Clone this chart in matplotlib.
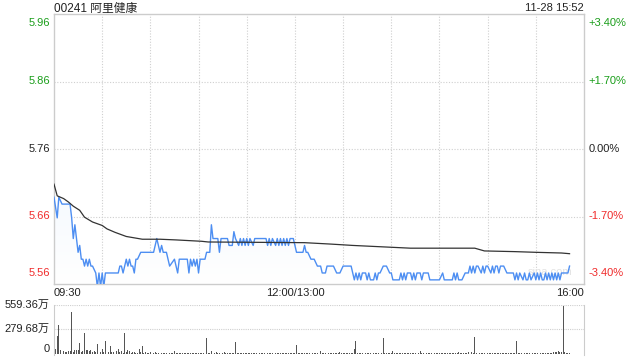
import numpy as np
import matplotlib.pyplot as plt
import matplotlib.transforms as mtransforms

plt.rcParams['font.family'] = ['Liberation Sans', 'Noto Sans CJK SC']

# 标题与时间
TITLE = "00241 阿里健康"
STAMP = "11-28 15:52"
PREV_CLOSE = 5.76
SPAN = 0.196

price_labels = ["5.96", "5.86", "5.76", "5.66", "5.56"]
pct_labels = ["+3.40%", "+1.70%", "0.00%", "-1.70%", "-3.40%"]
label_colors = ["#1a9e1a", "#1a9e1a", "#222222", "#f02b2b", "#f02b2b"]
time_labels = ["09:30", "12:00/13:00", "16:00"]
vol_labels = ["559.36万", "279.68万", "0"]
VOL_MAX = 559.36

# 分时价格 (分钟, 价格)
price_min = [0, 2, 3, 5, 10, 11, 12, 13, 14, 15, 16, 17, 18, 19, 20, 21, 22, 23, 24, 26,
             27, 28, 29, 30, 31, 32, 34, 39, 40, 41, 42, 43, 44, 45, 46, 47, 48, 49, 50, 51,
             52, 54, 62, 64, 66, 67, 68, 70, 71, 72, 75, 77, 78, 83, 84, 85, 86, 87, 88, 89,
             90, 91, 94, 95, 97, 98, 99, 102, 103, 104, 108, 109, 111, 112, 113, 115, 116, 117, 118, 119,
             120, 121, 122, 124, 125, 132, 133, 134, 135, 136, 138, 139, 140, 141, 142, 143, 144, 145, 146, 147,
             149, 150, 151, 155, 156, 157, 158, 160, 162, 164, 166, 167, 169, 170, 174, 176, 178, 180, 185, 187,
             188, 189, 190, 191, 192, 194, 195, 196, 197, 199, 200, 201, 202, 203, 205, 207, 209, 210, 211, 215,
             216, 217, 218, 219, 220, 222, 223, 224, 225, 226, 228, 229, 230, 231, 233, 234, 240, 242, 243, 248,
             249, 250, 251, 252, 254, 256, 258, 259, 260, 261, 262, 263, 264, 266, 267, 268, 269, 270, 272, 273,
             274, 275, 276, 277, 278, 280, 282, 286, 287, 288, 289, 290, 292, 293, 294, 295, 296, 297, 299, 300,
             301, 302, 303, 304, 305, 306, 307, 308, 309, 310, 311, 312, 313, 314, 315, 316, 318, 319, 320, 321]
price = [5.69, 5.66, 5.69, 5.68, 5.68, 5.66, 5.63, 5.65, 5.63, 5.61, 5.62, 5.60, 5.60, 5.59, 5.60, 5.59, 5.60, 5.59, 5.59, 5.58,
         5.56, 5.58, 5.56, 5.58, 5.56, 5.58, 5.58, 5.58, 5.58, 5.59, 5.59, 5.58, 5.59, 5.60, 5.59, 5.60, 5.59, 5.59, 5.58, 5.60,
         5.60, 5.61, 5.61, 5.63, 5.61, 5.62, 5.61, 5.61, 5.60, 5.59, 5.60, 5.58, 5.60, 5.60, 5.58, 5.60, 5.59, 5.60, 5.59, 5.60,
         5.58, 5.60, 5.60, 5.61, 5.61, 5.65, 5.63, 5.63, 5.61, 5.63, 5.63, 5.62, 5.62, 5.64, 5.63, 5.62, 5.63, 5.62, 5.63, 5.62,
         5.63, 5.62, 5.63, 5.62, 5.63, 5.63, 5.62, 5.63, 5.62, 5.63, 5.62, 5.63, 5.62, 5.63, 5.62, 5.63, 5.62, 5.63, 5.62, 5.63,
         5.63, 5.62, 5.61, 5.61, 5.62, 5.61, 5.61, 5.60, 5.60, 5.59, 5.59, 5.58, 5.58, 5.59, 5.59, 5.58, 5.58, 5.59, 5.59, 5.57,
         5.58, 5.57, 5.58, 5.57, 5.58, 5.58, 5.57, 5.58, 5.57, 5.57, 5.58, 5.57, 5.58, 5.58, 5.59, 5.59, 5.58, 5.58, 5.57, 5.57,
         5.58, 5.57, 5.58, 5.57, 5.58, 5.58, 5.57, 5.58, 5.57, 5.58, 5.58, 5.57, 5.58, 5.58, 5.58, 5.57, 5.57, 5.58, 5.57, 5.57,
         5.58, 5.57, 5.58, 5.57, 5.57, 5.58, 5.58, 5.59, 5.58, 5.59, 5.58, 5.59, 5.59, 5.58, 5.59, 5.58, 5.59, 5.59, 5.58, 5.59,
         5.58, 5.59, 5.59, 5.58, 5.59, 5.59, 5.58, 5.58, 5.57, 5.58, 5.57, 5.58, 5.57, 5.58, 5.57, 5.57, 5.58, 5.57, 5.58, 5.57,
         5.58, 5.57, 5.58, 5.57, 5.57, 5.58, 5.57, 5.58, 5.57, 5.58, 5.57, 5.58, 5.57, 5.58, 5.57, 5.58, 5.58, 5.58, 5.58, 5.59]

# 均价线
avg_min = [0, 2, 6, 9, 12, 16, 19, 24, 30, 33, 38, 45, 55, 66, 76, 92, 96, 156, 164, 172,
           186, 204, 222, 262, 268, 287, 300, 316, 321]
avg_price = [5.709, 5.692, 5.688, 5.683, 5.677, 5.671, 5.661, 5.654, 5.649, 5.644, 5.639, 5.633, 5.629, 5.629, 5.628,
             5.626, 5.625, 5.624, 5.623, 5.622, 5.620, 5.618, 5.616, 5.616, 5.612, 5.611, 5.610, 5.609, 5.608]

# 每分钟成交量 (万)
volume = [291, 60, 206, 329, 40, 99, 30, 20, 25, 30, 35, 475, 20, 40, 45, 40, 122, 25, 30, 233,
          45, 40, 35, 45, 20, 30, 15, 107, 25, 20, 50, 20, 145, 30, 25, 90, 15, 25, 12, 30,
          60, 15, 30, 10, 241, 20, 40, 30, 12, 15, 20, 10, 8, 60, 15, 91, 10, 15, 8, 12,
          20, 8, 10, 20, 10, 6, 15, 8, 10, 5, 12, 6, 8, 10, 5, 30, 8, 6, 10, 5,
          8, 6, 12, 5, 8, 4, 10, 6, 5, 8, 4, 6, 10, 5, 8, 176, 10, 6, 30, 183,
          8, 25, 6, 10, 40, 8, 20, 5, 6, 8, 4, 6, 8, 130, 10, 6, 5, 8, 4, 6,
          10, 5, 6, 4, 8, 5, 6, 15, 4, 6, 5, 8, 4, 6, 5, 4, 6, 8, 5, 4,
          6, 5, 4, 8, 5, 6, 4, 5, 10, 6, 5, 99, 8, 5, 6, 4, 5, 8, 4, 6,
          5, 4, 6, 5, 8, 79, 30, 6, 5, 4, 8, 5, 6, 10, 4, 5, 6, 8, 20, 5,
          6, 4, 5, 8, 6, 5, 10, 60, 145, 6, 5, 4, 8, 5, 6, 4, 5, 8, 6, 5,
          4, 6, 5, 8, 10, 183, 6, 5, 8, 4, 6, 30, 5, 8, 6, 4, 5, 10, 6, 5,
          4, 6, 8, 5, 6, 4, 8, 10, 30, 6, 5, 4, 8, 6, 5, 10, 6, 4, 5, 8,
          6, 5, 4, 8, 6, 10, 5, 6, 4, 8, 5, 6, 15, 4, 8, 6, 10, 5, 20, 272,
          15, 8, 194, 10, 20, 6, 5, 8, 4, 6, 5, 8, 6, 4, 12, 5, 6, 8, 4, 6,
          5, 8, 6, 10, 5, 6, 4, 8, 145, 6, 5, 10, 4, 6, 8, 5, 6, 4, 8, 10,
          6, 8, 5, 10, 6, 8, 12, 10, 6, 8, 12, 20, 15, 25, 30, 20, 25, 551, 25, 10, 8, 6]

BORDER = "#cccccc"
GRID = "#cfcfcf"

fig = plt.figure(figsize=(6.4, 3.6), dpi=100)
ax = fig.add_axes([54/640, 1 - 284/360, 530/640, 270/360])
axv = fig.add_axes([54/640, 1 - 355/360, 530/640, 50/360])

lo, hi = PREV_CLOSE - SPAN, PREV_CLOSE + SPAN

# 价格面板
ax.set_xlim(0, 330)
ax.set_ylim(lo, hi)
for x in range(30, 330, 30):
    ax.axvline(x, color=GRID, lw=0.8, ls=(0, (1, 1.5)), zorder=0)
levels = [hi, PREV_CLOSE + SPAN / 2, PREV_CLOSE, PREV_CLOSE - SPAN / 2, lo]
for y in levels[1:4]:
    ax.axhline(y, color=GRID, lw=0.8, ls=(0, (1, 1.5)), zorder=0)

# 渐变填充
grad = np.linspace(0, 1, 256).reshape(-1, 1)
img = ax.imshow(grad, extent=[0, 330, lo, hi], origin='lower', aspect='auto',
                cmap=plt.matplotlib.colors.LinearSegmentedColormap.from_list(
                    'g', ['#ffffff', '#e3eefc']), zorder=1)
poly_x = [price_min[0]] + price_min + [price_min[-1]]
poly_y = [lo] + price + [lo]
clip = plt.Polygon(np.column_stack([poly_x, poly_y]), closed=True, transform=ax.transData,
                   facecolor='none', edgecolor='none')
ax.add_patch(clip)
img.set_clip_path(clip)

ax.plot(price_min, price, color='#4d8ef2', lw=1.0, zorder=3)
ax.plot(avg_min, avg_price, color='#333333', lw=0.9, zorder=3)

ax.set_xticks([])
ax.set_yticks([])
for s in ax.spines.values():
    s.set_color(BORDER)
    s.set_linewidth(1)

tl = mtransforms.blended_transform_factory(ax.transAxes, ax.transData)
vas = ['top', 'center', 'center', 'center', 'bottom']
offs = [-0.006, 0, 0, 0, 0.008]
for lab, pct, col, y, va, o in zip(price_labels, pct_labels, label_colors, levels, vas, offs):
    ax.text(-0.008, y + o, lab, transform=tl, ha='right', va=va, color=col, fontsize=8)
    ax.text(1.008, y + o, pct, transform=tl, ha='left', va=va, color=col, fontsize=8)

fig.text(54 / 640, 1 - 11.5 / 360, TITLE, ha='left', va='baseline', fontsize=8.5, color='#222222')
fig.text(584 / 640, 1 - 11 / 360, STAMP, ha='right', va='baseline', fontsize=8, color='#222222')

ax.text(0, -0.015, time_labels[0], transform=ax.transAxes, ha='left', va='top', fontsize=8, color='#222222')
ax.text(150 / 330, -0.015, time_labels[1], transform=ax.transAxes, ha='center', va='top', fontsize=8, color='#222222')
ax.text(1, -0.015, time_labels[2], transform=ax.transAxes, ha='right', va='top', fontsize=8, color='#222222')
ax.text(0.935, 0.025, "sina.com", transform=ax.transAxes, ha='center', va='bottom', fontsize=8, color='#e2e2e2', zorder=2)

# 成交量面板
axv.set_xlim(0, 330)
axv.set_ylim(-14, VOL_MAX)
axv.bar(np.arange(len(volume)), volume, width=0.55, color='#555555', zorder=2)
axv.axhline(VOL_MAX, color=GRID, lw=0.8, ls=(0, (1, 1)), zorder=1)
axv.axhline(VOL_MAX / 2, color=GRID, lw=0.8, ls=(0, (1, 1)), zorder=1)
axv.set_xticks([])
axv.set_yticks([])
for k, s in axv.spines.items():
    s.set_color(BORDER)
    s.set_visible(k in ('left', 'right'))
tv = mtransforms.blended_transform_factory(axv.transAxes, axv.transData)
for lab, y, va in zip(vol_labels, [VOL_MAX, VOL_MAX / 2, 0], ['center', 'center', 'bottom']):
    axv.text(-0.008, y, lab, transform=tv, ha='right', va=va, fontsize=8, color='#222222')

fig.savefig('out.png', dpi=100)
